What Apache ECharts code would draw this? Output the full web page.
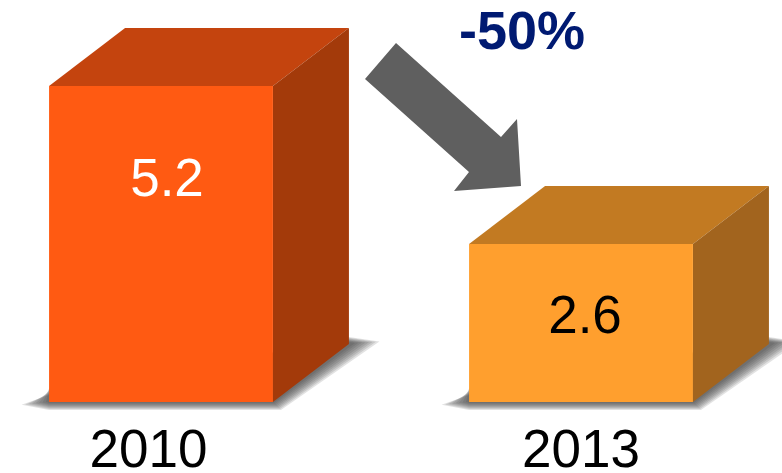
<!DOCTYPE html>
<html>
<head>
<meta charset="utf-8">
<style>
html, body { margin: 0; padding: 0; background: #fff; }
#chart { width: 782px; height: 473px; }
</style>
<script src="https://cdn.jsdelivr.net/npm/echarts@6/dist/echarts.min.js"></script>
</head>
<body>
<div id="chart"></div>
<script>
// 数据
var years = ['2010', '2013'];
var values = [5.2, 2.6];
var changeText = '-50%';

// 每个柱子的颜色：正面 / 顶面 / 侧面 / 数字
var frontColors = ['#ff5a12', '#ff9f2e'];
var topColors = ['#c4440e', '#c27a22'];
var sideColors = ['#a33a0a', '#a2641e'];
var labelColors = ['#ffffff', '#000000'];
// 数字相对正面中心的偏移
var labelShiftX = [6, 4];
var labelShiftY = [-63, -5];

var fontName = '"Liberation Sans", Arial, sans-serif';
var depthX = 76, depthY = 58;
var shadowLayers = 8;

var chart = echarts.init(document.getElementById('chart'));

function renderBox(params, api) {
    var i = api.value(0);
    var base = api.coord([i, 0]);
    var top = api.coord([i, api.value(1)]);
    var w = api.size([1, 0])[0] * 0.533;
    var x0 = base[0] - w / 2, x1 = base[0] + w / 2;
    var y0 = base[1], y1 = top[1];
    var children = [];
    // 底部阴影：一层层叠出模糊的效果
    for (var k = 0; k < shadowLayers; k++) {
        children.push({
            type: 'polygon',
            shape: { points: [
                [x0, y0 - 14 + k],
                [x0 - 3 - 3.5 * k, y0 + k * 0.4],
                [x0, y0 + 1 + k],
                [x1 + 1 + k, y0 + 1 + k],
                [x1 + depthX + 6 + 3.5 * k, y0 - depthY - 1 - k * 0.2],
                [x1 + depthX, y0 - depthY - 2 - k * 0.7]
            ] },
            style: { fill: 'rgba(60,60,60,0.15)' }
        });
    }
    children.push(
        // 顶面
        { type: 'polygon',
          shape: { points: [[x0, y1], [x1, y1], [x1 + depthX, y1 - depthY], [x0 + depthX, y1 - depthY]] },
          style: { fill: topColors[i] } },
        // 侧面
        { type: 'polygon',
          shape: { points: [[x1, y1], [x1 + depthX, y1 - depthY], [x1 + depthX, y0 - depthY], [x1, y0]] },
          style: { fill: sideColors[i] } },
        // 正面
        { type: 'rect',
          shape: { x: x0, y: y1, width: w, height: y0 - y1 },
          style: { fill: frontColors[i] } },
        { type: 'text',
          style: {
              x: base[0] + labelShiftX[i],
              y: (y0 + y1) / 2 + labelShiftY[i],
              text: String(api.value(1)),
              fill: labelColors[i],
              font: '53px ' + fontName,
              align: 'center',
              verticalAlign: 'middle'
          } }
    );
    return { type: 'group', children: children };
}

chart.setOption({
    animation: false,
    backgroundColor: '#ffffff',
    grid: { left: -49, width: 840, top: 86, height: 316, outerBoundsMode: 'none' },
    xAxis: {
        type: 'category',
        data: years,
        axisLine: { show: false },
        axisTick: { show: false },
        axisLabel: {
            margin: 24,
            interval: 0,
            hideOverlap: false,
            formatter: function(v) { return v === years[0] ? '{a|' + v + '}' : '{b|' + v + '}'; },
            rich: {
                a: { fontSize: 53, fontFamily: fontName, color: '#000', padding: [0, 25, 0, 0] },
                b: { fontSize: 53, fontFamily: fontName, color: '#000' }
            }
        }
    },
    yAxis: { type: 'value', min: 0, max: 5.2, show: false },
    series: [{
        type: 'custom',
        clip: false,
        renderItem: renderBox,
        encode: { x: 0, y: 1 },
        data: values.map(function(v, i) { return [i, v]; })
    }],
    graphic: [
        // 箭头
        { type: 'polygon', z: 10,
          shape: { points: [[396, 43], [365, 79], [469, 172], [454, 191], [521, 186], [517, 119], [501, 137]] },
          style: { fill: '#5f5f5f' } },
        { type: 'text', x: 522, y: 34, z: 10,
          style: { text: changeText, fill: '#001a72', font: 'bold 54px ' + fontName, align: 'center', verticalAlign: 'middle' } }
    ]
});

window.onresize = function() { chart.resize(); };
</script>
</body>
</html>
